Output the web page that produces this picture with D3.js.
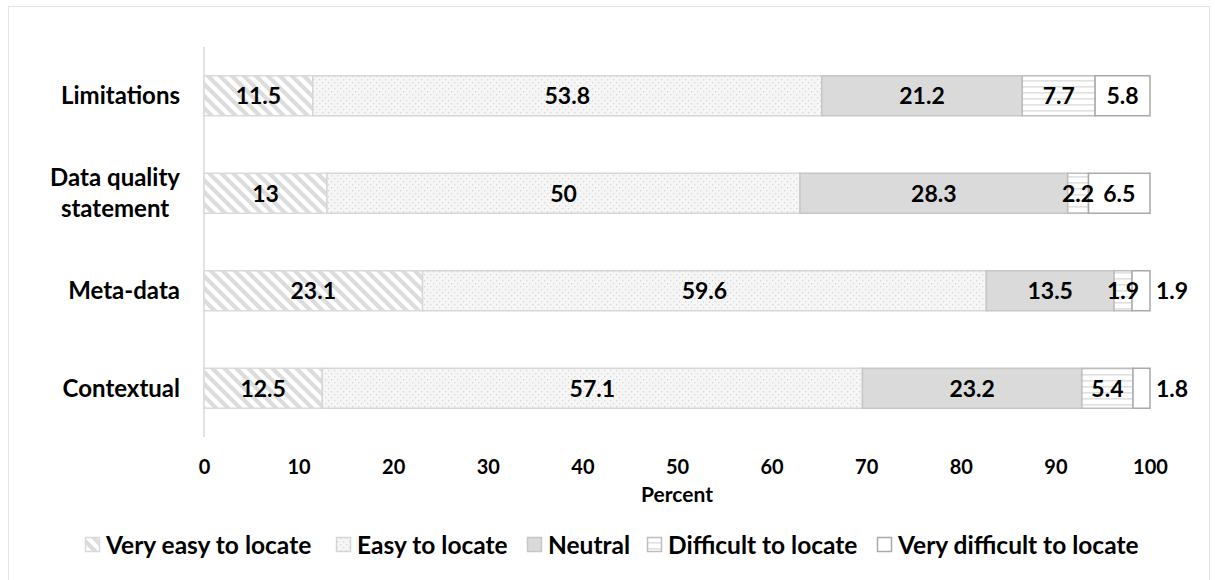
<!DOCTYPE html>
<html><head><meta charset="utf-8">
<script src="https://cdn.jsdelivr.net/npm/d3@7"></script>
<style>
body{margin:0;background:#fff;}
svg text{font-family:Lato,"Open Sans",sans-serif;font-weight:bold;fill:#000;}
</style></head>
<body><svg id="c" width="1215" height="580"></svg>
<script>
const categories = ["Limitations", "Data quality statement", "Meta-data", "Contextual"];
const categoryLines = [["Limitations"], ["Data quality", "statement"], ["Meta-data"], ["Contextual"]];
const seriesNames = ["Very easy to locate", "Easy to locate", "Neutral", "Difficult to locate", "Very difficult to locate"];
const veryEasy = [11.5, 13, 23.1, 12.5];
const easy = [53.8, 50, 59.6, 57.1];
const neutral = [21.2, 28.3, 13.5, 23.2];
const difficult = [7.7, 2.2, 1.9, 5.4];
const veryDifficult = [5.8, 6.5, 1.9, 1.8];
const xTicks = [0,10,20,30,40,50,60,70,80,90,100];
const seriesValues = [veryEasy, easy, neutral, difficult, veryDifficult];

const svg = d3.select("#c");
const defs = svg.append("defs");
// patterns
const p1 = defs.append("pattern").attr("id","p0").attr("patternUnits","userSpaceOnUse").attr("width",12).attr("height",12);
p1.append("rect").attr("width",12).attr("height",12).attr("fill","#fff");
p1.append("path").attr("d","M-6,-6 L18,18 M-6,6 L6,18 M6,-6 L18,6").attr("stroke","#dcdcdc").attr("stroke-width",4.2);
const p2 = defs.append("pattern").attr("id","p1").attr("patternUnits","userSpaceOnUse").attr("width",6).attr("height",6);
p2.append("rect").attr("width",6).attr("height",6).attr("fill","#f6f6f6");
p2.append("rect").attr("x",1).attr("y",1).attr("width",1.3).attr("height",1.3).attr("fill","#d6d6d6");
p2.append("rect").attr("x",4).attr("y",4).attr("width",1.3).attr("height",1.3).attr("fill","#d6d6d6");
const p4 = defs.append("pattern").attr("id","p3").attr("patternUnits","userSpaceOnUse").attr("width",6).attr("height",6);
p4.append("rect").attr("width",6).attr("height",6).attr("fill","#fff");
p4.append("rect").attr("y",2).attr("width",6).attr("height",1.6).attr("fill","#e0e0e0");
const fills = ["url(#p0)","url(#p1)","#dadada","url(#p3)","#ffffff"];
const strokes = ["#d9d9d9","#d6d6d6","#c6c6c6","#bdbdbd","#a9a9a9"];

// frame
svg.append("rect").attr("x",8.5).attr("y",6.5).attr("width",1201).attr("height",600).attr("fill","none").attr("stroke","#e3e3e3");

const x = d3.scaleLinear().domain([0,100]).range([204,1150]);
const y = d3.scaleBand().domain(categories).range([47,437]).paddingInner(0.59).paddingOuter(0.295);

// y axis line
svg.append("line").attr("x1",204).attr("x2",204).attr("y1",47).attr("y2",437).attr("stroke","#d9d9d9").attr("stroke-width",1.5);

const stackData = categories.map((c,i)=>{
  const o={cat:c}; seriesNames.forEach((s,j)=>o[s]=seriesValues[j][i]); return o;});
const stacked = d3.stack().keys(seriesNames)(stackData);

stacked.forEach((layer,j)=>{
  svg.append("g").selectAll("rect").data(layer).join("rect")
    .attr("x",d=>x(d[0])).attr("width",d=>x(d[1])-x(d[0]))
    .attr("y",d=>y(d.data.cat)).attr("height",y.bandwidth())
    .attr("fill",fills[j]).attr("stroke",strokes[j]).attr("stroke-width",1.5);
});
stacked.forEach((layer,j)=>{
  svg.append("g").selectAll("text").data(layer).join("text")
    .attr("x",d=>{
      const v=d[1]-d[0];
      if(j===4 && v<2) return x(d[1])+6;
      return (x(d[0])+x(d[1]))/2;})
    .attr("text-anchor",d=>(j===4 && d[1]-d[0]<2)?"start":"middle")
    .attr("y",d=>y(d.data.cat)+y.bandwidth()/2).attr("dy","0.36em")
    .style("font-size","23px")
    .text(d=>String(+(d[1]-d[0]).toFixed(1)));
});

// category labels (block right-aligned, lines centered)
categories.forEach((c,i)=>{
  const lines = categoryLines[i];
  const cy = y(c)+y.bandwidth()/2;
  const g = svg.append("g");
  const ts = lines.map((l,k)=>g.append("text").style("font-size","24px").attr("text-anchor","middle")
      .attr("y", cy + (k-(lines.length-1)/2)*31).attr("dy","0.36em").text(l));
  const w = d3.max(ts, t=>t.node().getComputedTextLength());
  ts.forEach(t=>t.attr("x", 180 - w/2));
});

// x axis
const xa = svg.append("g").attr("transform","translate(0,437)")
  .call(d3.axisBottom(x).tickValues(xTicks).tickSize(0).tickPadding(23));
xa.select(".domain").remove();
xa.selectAll("text").style("font-size","20px").style("font-family","Lato,sans-serif").style("font-weight","bold").attr("fill","#000");
svg.append("text").attr("x",677).attr("y",494).attr("dy","0.36em").attr("text-anchor","middle").style("font-size","21px").text("Percent");

// legend
const legX = [85,336,527,647,877];
seriesNames.forEach((s,j)=>{
  svg.append("rect").attr("x",legX[j]+0.5).attr("y",537.5).attr("width",14).attr("height",14)
    .attr("fill",fills[j]).attr("stroke",strokes[j]).attr("stroke-width",1.5);
  svg.append("text").attr("x",legX[j]+21).attr("y",545).attr("dy","0.36em").style("font-size","24.5px").text(s);
});
</script></body></html>
